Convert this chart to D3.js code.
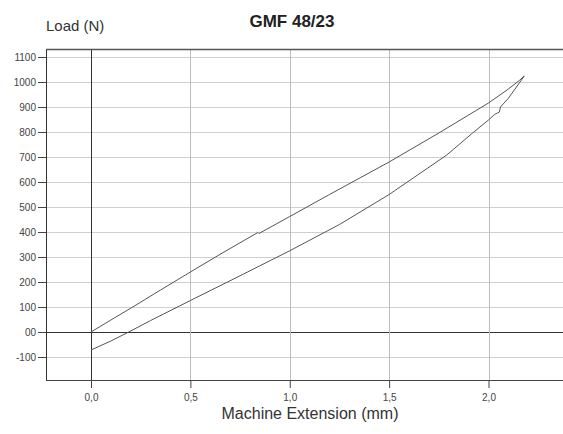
<!DOCTYPE html>
<html><head><meta charset="utf-8">
<script src="https://cdn.jsdelivr.net/npm/d3@7"></script>
<style>body{margin:0;background:#fff}svg{display:block}</style>
</head><body>
<script>
const xTicks = [0, 0.5, 1.0, 1.5, 2.0];
const xTickLabels = ["0,0", "0,5", "1,0", "1,5", "2,0"];
const yTicks = [-100, 0, 100, 200, 300, 400, 500, 600, 700, 800, 900, 1000, 1100];
const yTickLabels = ["-100", "00", "100", "200", "300", "400", "500", "600", "700", "800", "900", "1000", "1100"];
// loading curve (upper)
const loadX = [0, 0.10, 0.21, 0.35, 0.50, 0.65, 0.80, 0.84, 0.845, 1.00, 1.20, 1.50, 1.75, 2.00, 2.10, 2.155, 2.18];
const loadY = [0, 48, 100, 168, 240, 311, 380, 398, 394, 462, 550, 680, 796, 916, 972, 1006, 1024];
// unloading curve (lower)
const unloadX = [2.18, 2.155, 2.10, 2.06, 2.055, 2.045, 2.03, 2.00, 1.92, 1.79, 1.50, 1.25, 1.00, 0.75, 0.50, 0.30, 0.19, 0.10, 0];
const unloadY = [1024, 996, 935, 900, 880, 876, 870, 848, 796, 708, 550, 430, 325, 225, 126, 46, 0, -36, -72];

const W = 563, H = 434;
const svg = d3.select("body").append("svg").attr("width", W).attr("height", H);
const L = 46, T = 49, R = 563, B = 380;
const x = d3.scaleLinear().domain([0, 2]).range([91, 488.5]);
const y = d3.scaleLinear().domain([0, 1100]).range([332, 57]);
const font = "Liberation Sans, Arial, sans-serif";

// gridlines
svg.append("g").selectAll("line").data(yTicks).join("line")
  .attr("x1", L).attr("x2", R).attr("y1", d => Math.round(y(d)) + 0.5).attr("y2", d => Math.round(y(d)) + 0.5)
  .attr("stroke", d => d === 0 ? "#333" : "#cfcfcf").attr("stroke-width", 1);
svg.append("g").selectAll("line").data(xTicks).join("line")
  .attr("y1", T).attr("y2", B).attr("x1", d => Math.round(x(d)) + 0.5).attr("x2", d => Math.round(x(d)) + 0.5)
  .attr("stroke", d => d === 0 ? "#333" : "#bdbdbd").attr("stroke-width", 1);

// frame
svg.append("line").attr("x1", L + 0.5).attr("x2", L + 0.5).attr("y1", T).attr("y2", B + 0.5).attr("stroke", "#333");
svg.append("line").attr("x1", L).attr("x2", R).attr("y1", T + 0.5).attr("y2", T + 0.5).attr("stroke", "#555").attr("stroke-width", 1.5);
svg.append("line").attr("x1", L).attr("x2", R).attr("y1", B + 0.5).attr("y2", B + 0.5).attr("stroke", "#444").attr("stroke-width", 1.2);

// y axis
const yAxis = d3.axisLeft(y).tickValues(yTicks).tickSize(8).tickPadding(2)
  .tickFormat((d, i) => yTickLabels[i]);
const gy = svg.append("g").attr("transform", `translate(${L},0)`).call(yAxis);
gy.select(".domain").remove();
gy.selectAll(".tick line").attr("stroke", "#444");
gy.selectAll(".tick text").attr("font-family", font).attr("font-size", 10).attr("fill", "#444");

// x axis
const xAxis = d3.axisBottom(x).tickValues(xTicks).tickSize(8).tickPadding(6)
  .tickFormat((d, i) => xTickLabels[i]);
const gx = svg.append("g").attr("transform", `translate(0,${B})`).call(xAxis);
gx.select(".domain").remove();
gx.selectAll(".tick line").attr("stroke", "#444");
gx.selectAll(".tick text").attr("font-family", font).attr("font-size", 10).attr("fill", "#444");

// curves
const line = d3.line().x(d => x(d[0])).y(d => y(d[1]));
svg.append("path").datum(loadX.map((v, i) => [v, loadY[i]]))
  .attr("d", line).attr("fill", "none").attr("stroke", "#555").attr("stroke-width", 1);
svg.append("path").datum(unloadX.map((v, i) => [v, unloadY[i]]))
  .attr("d", line).attr("fill", "none").attr("stroke", "#555").attr("stroke-width", 1);

// texts
svg.append("text").attr("x", 292).attr("y", 27).attr("text-anchor", "middle")
  .attr("font-family", font).attr("font-size", 17).attr("font-weight", "bold").attr("fill", "#222").text("GMF 48/23");
svg.append("text").attr("x", 46).attr("y", 31)
  .attr("font-family", font).attr("font-size", 15).attr("fill", "#333").text("Load (N)");
svg.append("text").attr("x", 310).attr("y", 419).attr("text-anchor", "middle")
  .attr("font-family", font).attr("font-size", 16).attr("fill", "#333").text("Machine Extension (mm)");
</script>
</body></html>
